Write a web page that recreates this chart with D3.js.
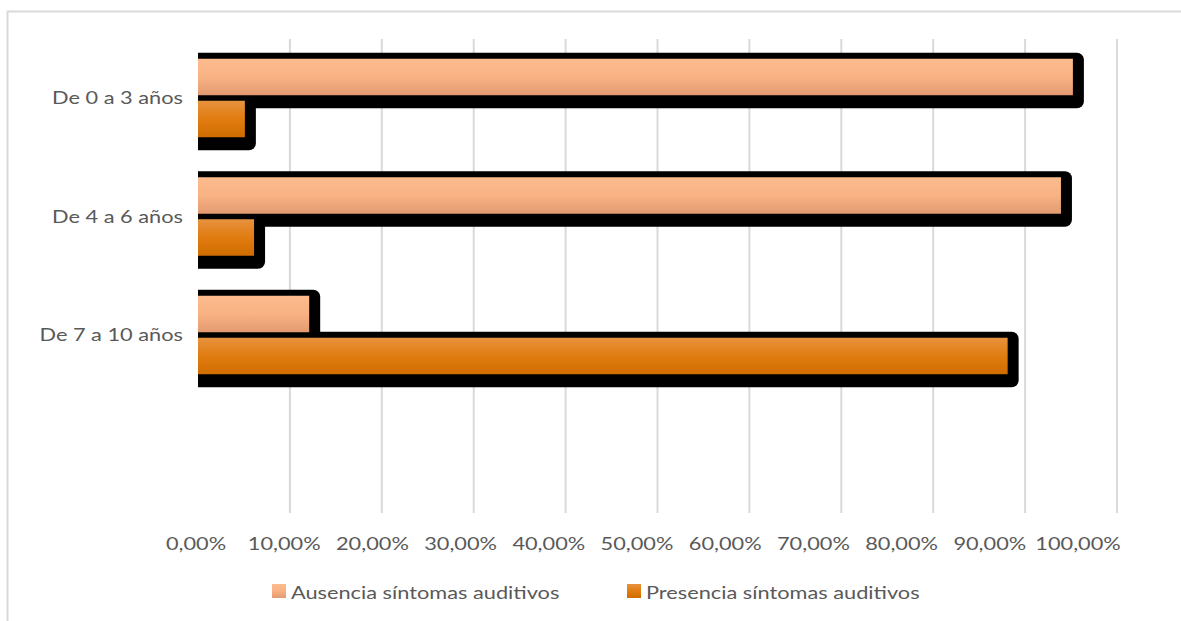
<!DOCTYPE html>
<html><head><meta charset="utf-8">
<script src="https://cdn.jsdelivr.net/npm/d3@7"></script>
<style>html,body{margin:0;padding:0;background:#fff;}svg{display:block;}</style>
</head><body>
<svg id="chart" width="1181" height="621"></svg>
<script>
// ---- data ----
const categories = ["De 0 a 3 años", "De 4 a 6 años", "De 7 a 10 años"];
const seriesNames = ["Ausencia síntomas auditivos", "Presencia síntomas auditivos"];
const ausencia = [0.952, 0.939, 0.121];
const presencia = [0.051, 0.061, 0.881];
const tickValues = [0, 0.1, 0.2, 0.3, 0.4, 0.5, 0.6, 0.7, 0.8, 0.9, 1.0];

// ---- layout ----
const svg = d3.select("#chart");
const plotTop = 39, plotBottom = 513;
const x = d3.scaleLinear().domain([0, 1]).range([198, 1117]);
// tick labels in the reference sit on a slightly narrower spacing than the gridlines
const xLabel = d3.scaleLinear().domain([0, 1]).range([196, 1078]);
const y = d3.scaleBand().domain(categories).range([39, 394.5]);
const locale = d3.formatLocale({decimal: ",", thousands: ".", grouping: [3], currency: ["", "€"]});
const fmt = locale.format(".2%");
const textColor = "#595959";
const FONT = "Lato, 'Liberation Sans', sans-serif";
const FS = 17, SX = 1.28;

const defs = svg.append("defs");
function grad(id, stops) {
  const g = defs.append("linearGradient").attr("id", id).attr("x1", 0).attr("y1", 0).attr("x2", 0).attr("y2", 1);
  stops.forEach(s => g.append("stop").attr("offset", s[0]).attr("stop-color", s[1]));
}
grad("gPink", [[0, "#FDBB8E"], [0.5, "#F8B283"], [1, "#E39A71"]]);
grad("gOrange", [[0, "#E8923F"], [0.5, "#E07C10"], [1, "#D06D00"]]);
defs.append("clipPath").attr("id", "plotClip").append("rect")
  .attr("x", x(0)).attr("y", 0).attr("width", 1181).attr("height", 621);

// outer border
svg.append("rect").attr("x", 7.5).attr("y", 11.5).attr("width", 1200).attr("height", 700)
  .attr("fill", "none").attr("stroke", "#D9D9D9").attr("stroke-width", 2);

// gridlines
svg.append("g").selectAll("line").data(tickValues.filter(d => d > 0)).join("line")
  .attr("x1", d => x(d)).attr("x2", d => x(d))
  .attr("y1", plotTop).attr("y2", plotBottom)
  .attr("stroke", "#D9D9D9").attr("stroke-width", 2);

// stretched text helper
function txt(g, s, px, py, anchor, size) {
  return g.append("text")
    .attr("transform", `translate(${px},${py}) scale(${SX},1)`)
    .attr("text-anchor", anchor)
    .attr("font-family", FONT).attr("font-size", size || FS)
    .attr("fill", textColor).text(s);
}

// bars
const barH = 36.5;
const series = [
  {name: seriesNames[0], values: ausencia, fill: "url(#gPink)", off: -39.5},
  {name: seriesNames[1], values: presencia, fill: "url(#gOrange)", off: 2.5}
];
const bars = svg.append("g").attr("clip-path", "url(#plotClip)");
categories.forEach((c, i) => {
  const cy = y(c) + y.bandwidth() / 2;
  series.forEach(s => {
    const by = cy + s.off;
    bars.append("rect")
      .attr("x", x(0) - 8).attr("y", by - 6)
      .attr("width", x(s.values[i]) - x(0) + 19).attr("height", barH + 19)
      .attr("rx", 7).attr("fill", "#000");
  });
  series.forEach(s => {
    const by = cy + s.off;
    bars.append("rect")
      .attr("x", x(0)).attr("y", by)
      .attr("width", x(s.values[i]) - x(0)).attr("height", barH)
      .attr("fill", s.fill);
  });
});

// category labels
const yl = svg.append("g");
categories.forEach(c => {
  txt(yl, c, 183, y(c) + y.bandwidth() / 2 + 6, "end");
});

// x tick labels
const xl = svg.append("g");
tickValues.forEach(t => txt(xl, fmt(t), xLabel(t), 550, "middle"));

// legend
const lg = svg.append("g");
const legendX = [272, 627];
series.forEach((s, i) => {
  lg.append("rect").attr("x", legendX[i]).attr("y", 584).attr("width", 14).attr("height", 14).attr("fill", s.fill);
  txt(lg, s.name, legendX[i] + 19, 599, "start");
});
</script>
</body></html>
